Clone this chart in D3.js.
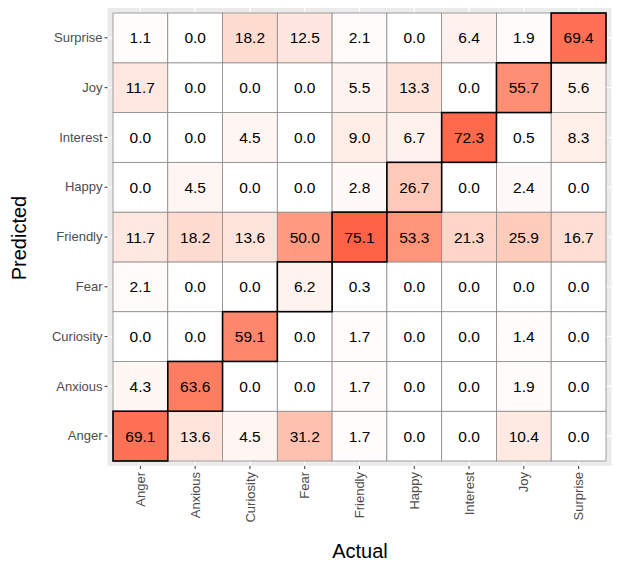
<!DOCTYPE html>
<html><head><meta charset="utf-8">
<script src="https://cdn.jsdelivr.net/npm/d3@7"></script>
<style>body{margin:0;background:#fff}svg{display:block;font-family:"Liberation Sans",Arial,sans-serif}</style>
</head><body><svg id="c" width="624" height="572"></svg>
<script>
const actual = ["Anger","Anxious","Curiosity","Fear","Friendly","Happy","Interest","Joy","Surprise"];
const predicted = ["Anger","Anxious","Curiosity","Fear","Friendly","Happy","Interest","Joy","Surprise"];
// rows: predicted category; values per actual category in order of `actual`
const rowAnger     = [69.1, 13.6, 4.5, 31.2, 1.7, 0.0, 0.0, 10.4, 0.0];
const rowAnxious   = [4.3, 63.6, 0.0, 0.0, 1.7, 0.0, 0.0, 1.9, 0.0];
const rowCuriosity = [0.0, 0.0, 59.1, 0.0, 1.7, 0.0, 0.0, 1.4, 0.0];
const rowFear      = [2.1, 0.0, 0.0, 6.2, 0.3, 0.0, 0.0, 0.0, 0.0];
const rowFriendly  = [11.7, 18.2, 13.6, 50.0, 75.1, 53.3, 21.3, 25.9, 16.7];
const rowHappy     = [0.0, 4.5, 0.0, 0.0, 2.8, 26.7, 0.0, 2.4, 0.0];
const rowInterest  = [0.0, 0.0, 4.5, 0.0, 9.0, 6.7, 72.3, 0.5, 8.3];
const rowJoy       = [11.7, 0.0, 0.0, 0.0, 5.5, 13.3, 0.0, 55.7, 5.6];
const rowSurprise  = [1.1, 0.0, 18.2, 12.5, 2.1, 0.0, 6.4, 1.9, 69.4];

const rows = [rowAnger,rowAnxious,rowCuriosity,rowFear,rowFriendly,rowHappy,rowInterest,rowJoy,rowSurprise];
const cells = [];
predicted.forEach((p,i)=>actual.forEach((a,j)=>cells.push({pred:p,act:a,v:rows[i][j]})));

const svg = d3.select("#c");
const x = d3.scaleBand().domain(actual).range([113,606]);
const y = d3.scaleBand().domain(predicted).range([461,13]);
const bw = x.bandwidth(), bh = y.bandwidth();
const maxV = d3.max(cells,d=>d.v);
const color = d3.scaleLinear().domain([0,maxV]).range(["#ffffff","#ff6347"]).interpolate(d3.interpolateLab);

// panel
const px0 = 113-0.1*bw, px1 = 606+0.1*bw, py0 = 13-0.1*bh, py1 = 461+0.1*bh;
svg.append("rect").attr("x",px0).attr("y",py0).attr("width",px1-px0).attr("height",py1-py0).attr("fill","#ebebeb");
// grid
const g = svg.append("g");
actual.forEach(a=>g.append("line").attr("x1",x(a)+bw/2).attr("x2",x(a)+bw/2).attr("y1",py0).attr("y2",py1).attr("stroke","#fff").attr("stroke-width",1.1));
predicted.forEach(p=>g.append("line").attr("y1",y(p)+bh/2).attr("y2",y(p)+bh/2).attr("x1",px0).attr("x2",px1).attr("stroke","#fff").attr("stroke-width",1.1));

// tiles
svg.append("g").selectAll("rect").data(cells).join("rect")
  .attr("x",d=>x(d.act)).attr("y",d=>y(d.pred)).attr("width",bw).attr("height",bh)
  .attr("fill",d=>color(d.v)).attr("stroke","#8a8a8a").attr("stroke-width",0.8);
// diagonal highlight
svg.append("g").selectAll("rect").data(cells.filter(d=>d.act===d.pred)).join("rect")
  .attr("x",d=>x(d.act)).attr("y",d=>y(d.pred)).attr("width",bw).attr("height",bh)
  .attr("fill","none").attr("stroke","#000").attr("stroke-width",1.6);
// labels
svg.append("g").selectAll("text").data(cells).join("text")
  .attr("x",d=>x(d.act)+bw/2).attr("y",d=>y(d.pred)+bh/2).attr("dy","0.36em")
  .attr("text-anchor","middle").attr("font-size",15.5).attr("fill","#000")
  .text(d=>d.v.toFixed(1));

// axes
const ax = svg.append("g").attr("transform",`translate(0,${py1})`).call(d3.axisBottom(x).tickSize(3).tickPadding(3));
ax.select(".domain").remove();
ax.selectAll(".tick line").attr("stroke","#333");
ax.selectAll(".tick text").attr("font-size",13).attr("fill","#4d4d4d")
  .attr("transform","rotate(-90)").attr("text-anchor","end").attr("x",-6).attr("y",0).attr("dy","0.35em");
const ay = svg.append("g").attr("transform",`translate(${px0},0)`).call(d3.axisLeft(y).tickSize(3).tickPadding(2));
ay.select(".domain").remove();
ay.selectAll(".tick line").attr("stroke","#333");
ay.selectAll(".tick text").attr("font-size",13).attr("fill","#4d4d4d");
ax.attr("font-family",null); ay.attr("font-family",null);

svg.append("text").attr("x",360).attr("y",558).attr("text-anchor","middle").attr("font-size",20).attr("fill","#000").text("Actual");
svg.append("text").attr("transform","translate(26,238) rotate(-90)").attr("text-anchor","middle").attr("font-size",20).attr("fill","#000").text("Predicted");
</script></body></html>
